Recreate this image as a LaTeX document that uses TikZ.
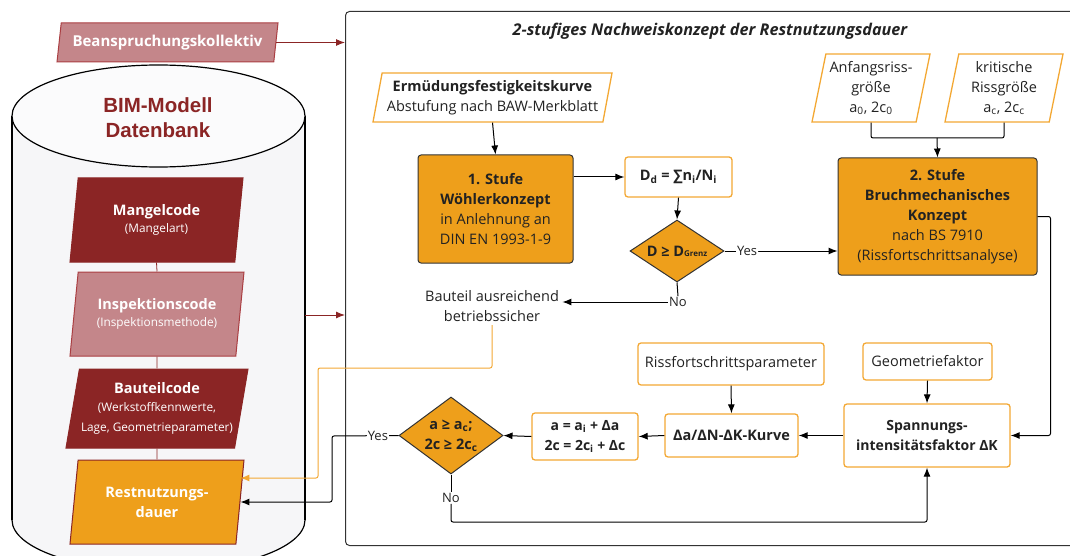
\documentclass[tikz,border=0pt]{standalone}
\usepackage{fontspec}
\setmainfont{Open Sans}
\newfontfamily\bimfont{Liberation Sans}
\usetikzlibrary{arrows.meta,shapes.geometric}

\definecolor{orng}{RGB}{238,159,27}
\definecolor{orline}{RGB}{243,168,52}
\definecolor{dred}{RGB}{139,37,37}
\definecolor{lred}{RGB}{196,134,138}
\definecolor{lredline}{RGB}{170,62,66}
\definecolor{txt}{RGB}{34,34,34}
\definecolor{dbfill}{RGB}{246,246,248}
\newcommand{\sml}{\fontsize{11.8}{17}\selectfont}

\begin{document}
\begin{tikzpicture}[x=1pt,y=-1pt,
    every node/.style={font=\fontsize{14.5}{20}\selectfont, text=txt},
    para/.style={trapezium, trapezium left angle=76, trapezium right angle=104,
        trapezium stretches body, inner sep=1pt, align=center, line width=1pt},
    codebox/.style={para, fill=dred, draw=dred, text=white},
    lightbox/.style={para, fill=lred, draw=lredline, text=white},
    inbox/.style={para, fill=white, draw=orline, line width=1.3pt},
    wbox/.style={rectangle, rounded corners=3pt, fill=white, draw=orline, line width=1.3pt, align=center},
    stufe/.style={rectangle, rounded corners=3pt, fill=orng, draw=black!80, line width=1pt, align=center},
    check/.style={diamond, fill=orng, draw=black!80, line width=1pt, inner sep=0pt, align=center},
    arr/.style={-{Latex[length=9pt,width=7pt]}, line width=1pt, rounded corners=2pt},
    rarr/.style={arr, draw=dred},
    lbl/.style={fill=white, inner sep=1pt, font=\fontsize{13}{15}\selectfont}]

    \useasboundingbox (0,0) rectangle (1070,556);

    % frame of the two-step concept
    \node[draw=black!80, line width=1pt, rounded corners=4pt, anchor=north west,
        minimum width=740, minimum height=534, inner sep=0pt] (frame) at (345,11) {};
    \node[font=\fontsize{16.2}{19}\selectfont\bfseries\itshape] (title) at (710,31)
        {2-stufiges Nachweiskonzept der Restnutzungsdauer};

    % data base cylinder
    \draw[black, line width=1.2pt, fill=dbfill] (158.5,520) ellipse [x radius=146.5, y radius=51];
    \fill[dbfill] (12,116) rectangle (305,520);
    \draw[black, line width=1.2pt] (12,116) -- (12,520) (305,116) -- (305,520);
    \draw[black, line width=1.2pt, fill=white!60!dbfill] (158.5,116) ellipse [x radius=146.5, y radius=51];
    \node[font=\bimfont\fontsize{20.5}{25}\selectfont\bfseries, text=dred, align=center] (bim) at (158,118)
        {BIM-Modell\\Datenbank};
    \coordinate (dbr) at (305,315);

    % codes in the data base
    \node[lightbox, minimum width=221, minimum height=39, font=\fontsize{15}{18}\selectfont\bfseries] (bean)
        at (167.5,42.5) {Beanspruchungskollektiv};
    \node[codebox, minimum width=173, minimum height=84] (mangel) at (156.5,220)
        {\bfseries Mangelcode\\[-3pt]\sml(Mangelart)};
    \node[lightbox, minimum width=174, minimum height=84] (insp) at (157,314)
        {\bfseries Inspektionscode\\[-3pt]\sml(Inspektionsmethode)};
    \node[codebox, minimum width=182, minimum height=79] (baut) at (157,408.5)
        {\bfseries Bauteilcode\\[-2pt]\sml(Werkstoffkennwerte,\\\sml Lage, Geometrieparameter)};
    \node[para, fill=orng, draw=dred, text=white, minimum width=174, minimum height=84] (rest) at (157,502)
        {\bfseries Restnutzungs-\\\bfseries dauer};
    \foreach \a/\b in {mangel/insp, insp/baut, baut/rest}
        \draw[dred, line width=0.8pt] (\a.south) -- (\b.north);

    % step 1
    \node[inbox, minimum width=239, minimum height=49] (ermued) at (492.5,97.5)
        {\bfseries Ermüdungsfestigkeitskurve\\Abstufung nach BAW-Merkblatt};
    \node[stufe, minimum width=155, minimum height=108] (st1) at (495.5,209)
        {\bfseries 1. Stufe\\\bfseries Wöhlerkonzept\\in Anlehnung an\\DIN EN 1993-1-9};
    \node[wbox, minimum width=107, minimum height=40] (dd) at (678.5,177)
        {\bfseries D\textsubscript{d} = ∑n\textsubscript{i}/N\textsubscript{i}};
    \node[check, minimum width=94, minimum height=62, aspect=1.5] (d1) at (677,251)
        {\bfseries D ≥ D{\fontsize{8}{9}\selectfont Grenz}};
    \node[align=center] (safe) at (492,306) {Bauteil ausreichend\\betriebssicher};
    \node[font=\fontsize{13}{15}\selectfont, inner sep=1pt] (no1) at (678,302) {No};

    % step 2
    \node[inbox, minimum width=118, minimum height=68] (anf) at (871,88)
        {Anfangsriss-\\größe\\a\textsubscript{0}, 2c\textsubscript{0}};
    \node[inbox, minimum width=118, minimum height=68] (kri) at (1004,88)
        {kritische\\Rissgröße\\a\textsubscript{c}, 2c\textsubscript{c}};
    \node[stufe, minimum width=199, minimum height=117] (st2) at (937.5,216.5)
        {\bfseries 2. Stufe\\\bfseries Bruchmechanisches\\\bfseries Konzept\\nach BS 7910\\(Rissfortschrittsanalyse)};

    % crack growth loop
    \node[wbox, minimum width=186, minimum height=42] (rpar) at (731,364) {Rissfortschrittsparameter};
    \node[wbox, minimum width=129, minimum height=37] (geo) at (927.5,361.5) {Geometriefaktor};
    \node[wbox, minimum width=133, minimum height=43] (dadn) at (731.5,435.5) {\bfseries Δa/ΔN-ΔK-Kurve};
    \node[wbox, minimum width=166, minimum height=63, font=\fontsize{14}{20}\selectfont\bfseries] (spann)
        at (927,435.5) {Spannungs-\\intensitätsfaktor ΔK};
    \node[wbox, minimum width=106, minimum height=47, font=\fontsize{14}{20}\selectfont\bfseries] (aeq)
        at (585,436.5) {a = a\textsubscript{i} + Δa\\2c = 2c\textsubscript{i} + Δc};
    \node[check, minimum width=104, minimum height=77, aspect=1.35] (d2) at (451,435.5)
        {\bfseries a ≥ a\textsubscript{c};\\\bfseries 2c ≥ 2c\textsubscript{c}};
    \node[font=\fontsize{13}{15}\selectfont, inner sep=1pt] (no2) at (451,498) {No};

    % inputs into the frame
    \draw[rarr] (bean.east) -- (frame.west |- bean.east);
    \draw[rarr] (dbr) -- (frame.west |- dbr);

    % connectors
    \draw[arr] (ermued.south) -- (st1.north);
    \draw[arr] (st1.east |- dd.west) -- (dd.west);
    \draw[arr] (dd.south) -- (d1.north);
    \draw[arr] (d1.east) -- node[lbl, pos=0.2] {Yes} (d1.east -| st2.west);
    \draw[line width=1pt] (d1.south) -- (no1.north);
    \draw[arr] (no1.west) -- (no1.west -| safe.east);
    \coordinate (mrg) at (937,138);
    \draw[line width=1pt, rounded corners=2pt] (anf.south) |- (mrg) -| (kri.south);
    \draw[arr] (mrg) -- (st2.north);
    \draw[arr] (st2.east) -- ++(13,0) |- (spann.east);
    \draw[arr] (geo.south) -- (spann.north);
    \draw[arr] (rpar.south) -- (dadn.north);
    \draw[arr] (spann.west) -- (dadn.east);
    \draw[arr] (dadn.west) -- (aeq.east);
    \draw[arr] (aeq.west) -- (d2.east);
    \draw[line width=1pt] (d2.south) -- (no2.north);
    \draw[arr] (no2.south) -- (451,522) -| (spann.south);
    \draw[arr] (d2.west) -- node[lbl, pos=0.31] {Yes} (332,436) |- (rest.east);
    \draw[arr, draw=orline] (safe.south) |- (318,368) |- ([yshift=24pt]rest.east);
\end{tikzpicture}
\end{document}
